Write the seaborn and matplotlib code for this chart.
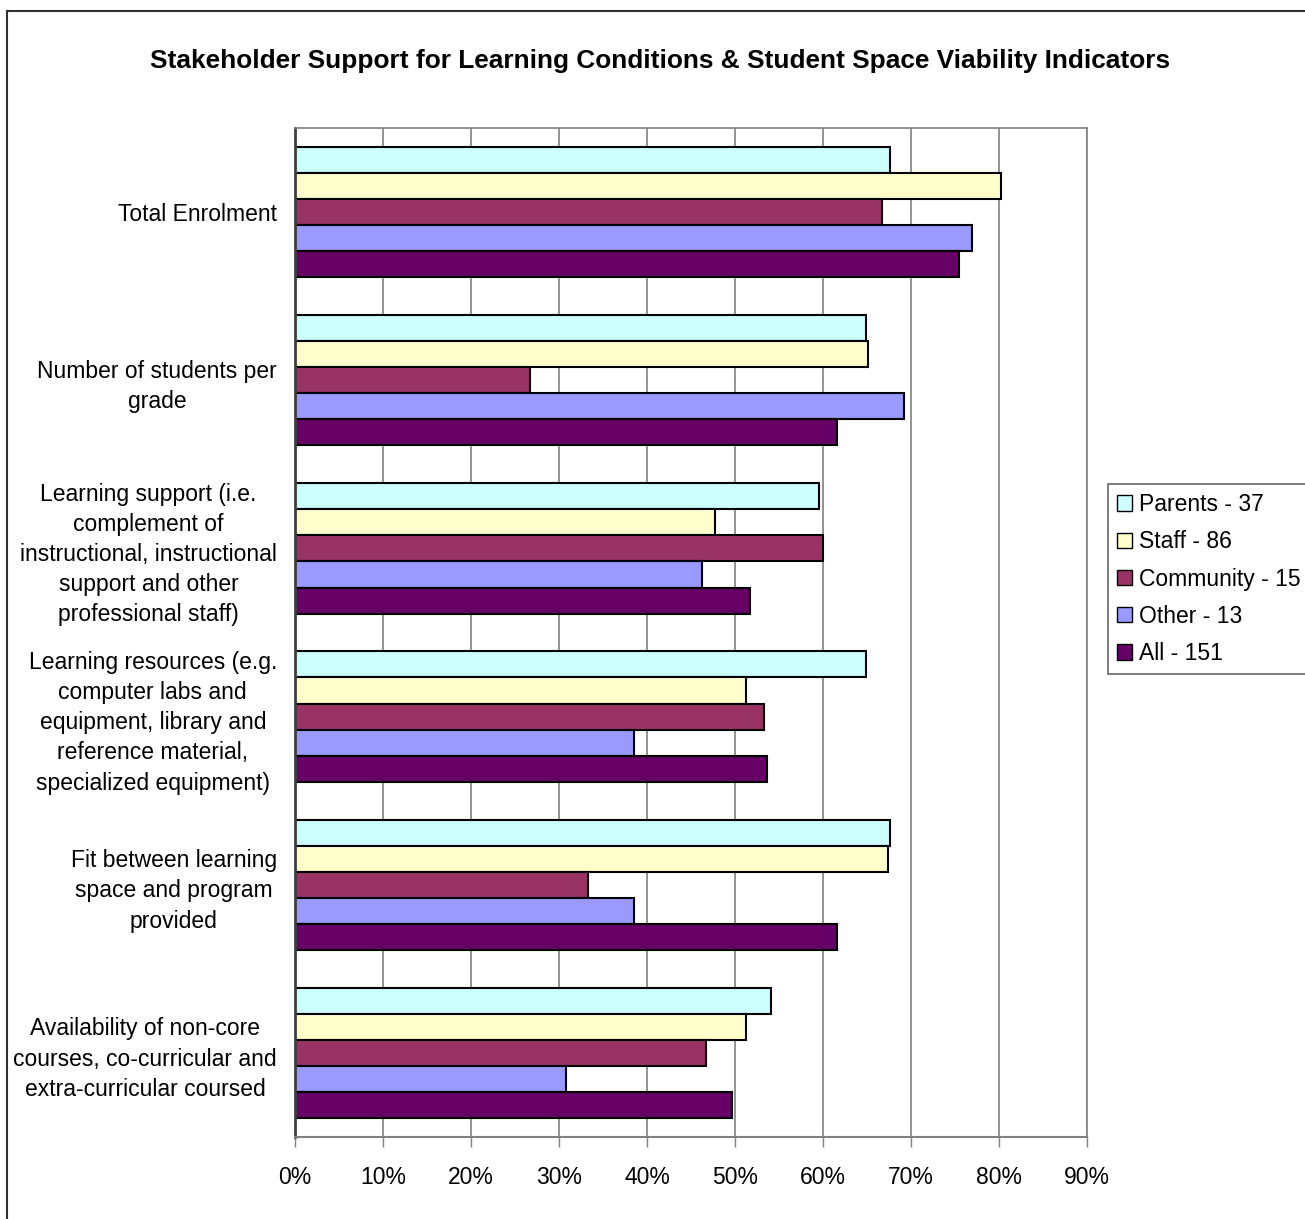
import numpy as np
import pandas as pd
import matplotlib
matplotlib.use("Agg")
import matplotlib.pyplot as plt
from matplotlib.patches import Patch, Rectangle
import seaborn as sns

# categories (top to bottom) and groups
categories = [
    "Total Enrolment",
    "Number of students per\ngrade",
    "Learning support (i.e.\ncomplement of\ninstructional, instructional\nsupport and other\nprofessional staff)",
    "Learning resources (e.g.\ncomputer labs and\nequipment, library and\nreference material,\nspecialized equipment)",
    "Fit between learning\nspace and program\nprovided",
    "Availability of non-core\ncourses, co-curricular and\nextra-curricular coursed",
]
groups = ["Parents - 37", "Staff - 86", "Community - 15", "Other - 13", "All - 151"]

# percent support
parents = [67.6, 64.9, 59.5, 64.9, 67.6, 54.1]
staff = [80.2, 65.1, 47.7, 51.2, 67.4, 51.2]
community = [66.7, 26.7, 60.0, 53.3, 33.3, 46.7]
other = [76.9, 69.2, 46.2, 38.5, 38.5, 30.8]
all_resp = [75.5, 61.6, 51.7, 53.6, 61.6, 49.7]

colors = ["#CCFFFF", "#FFFFCC", "#993366", "#9999FF", "#660066"]

rows = []
for g, vals in zip(groups, [parents, staff, community, other, all_resp]):
    for c, v in zip(categories, vals):
        rows.append({"category": c, "group": g, "pct": v})
df = pd.DataFrame(rows)

sns.set_style("white")
plt.rcParams['font.family'] = ['Liberation Sans', 'DejaVu Sans']
plt.rcParams['text.color'] = 'black'
plt.rcParams['xtick.color'] = 'black'
plt.rcParams['ytick.color'] = 'black'

fig = plt.figure(figsize=(13.05, 12.19), dpi=100)
ax = fig.add_axes([295 / 1305, 1 - 1137 / 1219, 792 / 1305, 1009 / 1219])

sns.barplot(data=df, y="category", x="pct", hue="group", order=categories,
            hue_order=groups, palette=colors, saturation=1, orient="h", width=0.775,
            edgecolor="black", linewidth=1.5, errorbar=None, legend=False, ax=ax)

fs = 16.5
ax.set_xlim(0, 90)
ax.set_ylim(5.5, -0.5)
ax.set_xticks(np.arange(0, 91, 10))
ax.set_xticklabels([f"{t}%" for t in range(0, 91, 10)], fontsize=fs)
ax.set_yticks(range(len(categories)))
ax.set_yticklabels(categories, fontsize=fs, multialignment="center", linespacing=1.4)
ax.set_xlabel("")
ax.set_ylabel("")
ax.xaxis.grid(True, color="#808080", linewidth=1.2)
ax.set_axisbelow(True)
ax.tick_params(axis="x", which="major", direction="out", length=7, width=1,
               color="#808080", labelcolor="black", pad=14, bottom=True)
ax.tick_params(axis="y", length=0, pad=13, labelcolor="black")
for s in ["top", "right"]:
    ax.spines[s].set_color("#808080")
    ax.spines[s].set_linewidth(1.2)
ax.spines["left"].set_color("#404040")
ax.spines["left"].set_linewidth(2)
ax.spines["bottom"].set_color("#808080")
ax.spines["bottom"].set_linewidth(1.5)

fig.text(660 / 1305, 1 - 61 / 1219, "Stakeholder Support for Learning Conditions & Student Space Viability Indicators",
         ha="center", va="center", fontsize=18.9, fontweight="bold", color="black")

handles = [Patch(facecolor=c, edgecolor="black", linewidth=1) for c in colors]
leg = fig.legend(handles, groups, loc="upper left", bbox_to_anchor=(1108 / 1305, 1 - 484 / 1219),
                 fontsize=fs, frameon=True, fancybox=False, edgecolor="#404040",
                 handlelength=0.65, handleheight=0.65, handletextpad=0.3,
                 labelspacing=0.62, borderpad=0.4, borderaxespad=0)
leg.get_frame().set_linewidth(1.2)

# outer chart border
fig.patches.append(Rectangle((7 / 1305, -0.01), 1.1, 1 - 11 / 1219 + 0.01, transform=fig.transFigure,
                             fill=False, edgecolor="#303030", linewidth=1.5))

fig.savefig("out.png", dpi=100)
